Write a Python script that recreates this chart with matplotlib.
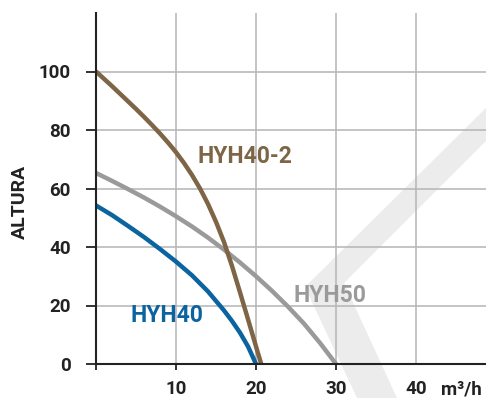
import matplotlib
matplotlib.use("Agg")
import matplotlib.pyplot as plt
from matplotlib.patches import Polygon

# ---- data ----
hyh40_2_q = [0, 1, 2, 3, 4, 5, 6, 7, 8, 9, 10, 11, 12, 13, 14, 15, 16, 17, 18, 19, 20, 20.65]
hyh40_2_h = [100, 97.5, 95.0, 92.4, 89.8, 87.2, 84.5, 81.7, 78.8, 75.7, 72.4, 68.7, 64.6,
             60.0, 54.7, 48.6, 41.7, 33.5, 24.5, 15.3, 6.0, 0]

hyh50_q = [0, 2, 4, 6, 8, 10, 12, 14, 16, 18, 20, 22, 24, 26, 28, 30]
hyh50_h = [65.3, 62.6, 59.8, 56.9, 53.8, 50.5, 47.0, 43.2, 39.1, 34.7, 30.0, 25.0, 19.6, 13.8, 7.2, 0]

hyh40_q = [0, 2, 4, 6, 8, 10, 12, 14, 16, 17, 18, 19, 20]
hyh40_h = [54.2, 50.9, 47.2, 43.4, 39.3, 35.0, 30.3, 24.8, 18.3, 14.7, 10.7, 6.0, 0]

x_ticks = [0, 10, 20, 30, 40]
x_tick_labels = ["", "10", "20", "30", "40"]
y_ticks = [0, 20, 40, 60, 80, 100]
y_tick_labels = ["0", "20", "40", "60", "80", "100"]

series_names = ["HYH40-2", "HYH50", "HYH40"]
series_colors = ["#7d6546", "#9a9a9a", "#0b64a0"]

W, H = 486, 398
fig = plt.figure(figsize=(W / 100, H / 100), dpi=100)

# background watermark chevron (decoration, in pixel coords of the image)
wm_px = [(486, 108), (305, 287), (357, 398), (397, 398), (344, 283), (486, 141)]
wm = Polygon([(x / W, 1 - y / H) for x, y in wm_px], closed=True,
             transform=fig.transFigure, facecolor="#ececec", edgecolor="none", zorder=-5)
fig.patches.append(wm)

left_px, right_px, top_px, bottom_px = 96, 486, 13, 364
ax = fig.add_axes([left_px / W, 1 - bottom_px / H, (right_px - left_px) / W, (bottom_px - top_px) / H])
ax.set_zorder(1)
ax.set_facecolor("none")
ax.set_xlim(0, (right_px - left_px) / 8.0)
ax.set_ylim(0, 120)

for s in ["top", "right"]:
    ax.spines[s].set_visible(False)
for s in ["left", "bottom"]:
    ax.spines[s].set_color("#222222")
    ax.spines[s].set_linewidth(1.5)
    ax.spines[s].set_zorder(4)

font = "Roboto"
tick_kw = dict(fontfamily=font, fontsize=13.5, fontweight="semibold", color="#222222")
ax.set_xticks(x_ticks)
ax.set_xticklabels(x_tick_labels, **tick_kw)
ax.set_yticks(y_ticks)
ax.set_yticklabels(y_tick_labels, **tick_kw)
ax.tick_params(axis="y", length=7.2, width=1.3, color="#222222", pad=11)
ax.tick_params(axis="x", length=4.5, width=1.3, color="#222222", pad=7)
ax.xaxis.get_major_ticks()[-1].tick1line.set_visible(False)

# grid
for gx in x_ticks[1:]:
    ax.axvline(gx, color="#b4b4b4", lw=1.1, zorder=1)
for gy in y_ticks[1:]:
    ax.axhline(gy, color="#b4b4b4", lw=1.1, zorder=1)

line_kw = dict(lw=3.2, zorder=3, solid_capstyle="butt", solid_joinstyle="round")
ax.plot(hyh50_q, hyh50_h, color=series_colors[1], **line_kw)
ax.plot(hyh40_2_q, hyh40_2_h, color=series_colors[0], **line_kw)
ax.plot(hyh40_q, hyh40_h, color=series_colors[2], **line_kw)

lab_kw = dict(fontfamily=font, fontsize=16.5, fontweight="bold", ha="center", va="center", zorder=5)
ax.text(18.6, 71.0, series_names[0], color=series_colors[0], **lab_kw)
ax.text(29.2, 23.3, series_names[1], color=series_colors[1], **lab_kw)
ax.text(8.9, 16.6, series_names[2], color=series_colors[2], **lab_kw)

ax.set_ylabel("ALTURA", fontfamily=font, fontsize=14, fontweight="semibold", color="#222222")
ax.yaxis.set_label_coords(-(96 - 29) / (right_px - left_px), 1 - (201.7 - top_px) / (bottom_px - top_px))

fig.text(441 / W, 1 - 395 / H, "m³/h", fontfamily=font, fontsize=13.5, fontweight="semibold",
         color="#222222", ha="left", va="baseline")

fig.savefig("out.png", dpi=100)
